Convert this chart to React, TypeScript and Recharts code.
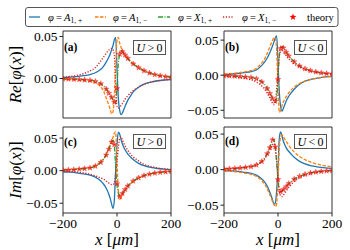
import React from 'react';
import { ComposedChart, Line, Scatter, XAxis, YAxis, ReferenceArea } from 'recharts';

// x positions (um) shared by all simulated curves
const X_GRID = [-200, -175, -150, -125, -100, -80, -60, -50, -40, -30, -25, -20, -15, -10, -5, 0, 5, 10, 15, 20, 25, 30, 40, 50, 60, 80, 100, 125, 150, 175, 200];
// x positions of the theory stars
const STAR_X = [-200, -180, -160, -140, -120, -100, -80, -60, -40, -30, -20, -10, 0, 10, 20, 30, 40, 60, 80, 100, 120, 140, 160, 180, 200];

// (a) Re, U > 0
const A_BLUE = [0.0012, 0.0016, 0.0023, 0.0033, 0.0047, 0.0068, 0.0110, 0.0145, 0.0195, 0.0255, 0.0295, 0.034, 0.039, 0.046, 0.049, 0.012, -0.024, -0.038, -0.043, -0.041, -0.037, -0.033, -0.026, -0.021, -0.016, -0.0105, -0.0068, -0.0042, -0.0027, -0.0018, -0.0012];
const A_ORANGE = [-0.0009, -0.0012, -0.0016, -0.0025, -0.0034, -0.0050, -0.0100, -0.0150, -0.0230, -0.0320, -0.037, -0.042, -0.040, -0.020, 0.012, 0.045, 0.049, 0.042, 0.037, 0.033, 0.030, 0.027, 0.023, 0.020, 0.0175, 0.0135, 0.0098, 0.0064, 0.0040, 0.0025, 0.0015];
const A_GREEN = [-0.0005, -0.0007, -0.0010, -0.0015, -0.0022, -0.0034, -0.0062, -0.0088, -0.0125, -0.0175, -0.0200, -0.0225, -0.0255, -0.029, -0.030, -0.008, 0.018, 0.029, 0.033, 0.032, 0.030, 0.028, 0.024, 0.0205, 0.0175, 0.0128, 0.0092, 0.0060, 0.0038, 0.0024, 0.0015];
const A_RED = [0.0016, 0.0024, 0.0036, 0.0056, 0.0090, 0.0130, 0.0210, 0.0255, 0.0300, 0.0340, 0.0352, 0.0358, 0.0345, 0.028, -0.010, -0.033, -0.035, -0.034, -0.032, -0.030, -0.027, -0.0245, -0.0205, -0.0172, -0.0145, -0.0102, -0.0070, -0.0045, -0.0028, -0.0018, -0.0012];
const A_STARS = [-0.0005, -0.0006, -0.0009, -0.0012, -0.0016, -0.0022, -0.0034, -0.0062, -0.0125, -0.0175, -0.0225, -0.028, -0.012, 0.029, 0.032, 0.028, 0.024, 0.0175, 0.0128, 0.0092, 0.0066, 0.0046, 0.0033, 0.0022, 0.0015];

// (b) Re, U < 0
const B_BLUE = [0.0012, 0.0016, 0.0024, 0.0036, 0.0050, 0.0075, 0.0140, 0.0185, 0.0245, 0.0325, 0.0370, 0.0420, 0.0475, 0.0535, 0.0560, 0.018, -0.025, -0.045, -0.051, -0.047, -0.042, -0.037, -0.030, -0.0245, -0.0200, -0.0128, -0.0085, -0.0056, -0.0037, -0.0025, -0.0017];
const B_ORANGE = [0.0017, 0.0023, 0.0033, 0.0047, 0.0066, 0.0098, 0.0175, 0.0230, 0.0310, 0.0405, 0.0455, 0.0500, 0.0535, 0.0530, 0.035, -0.015, -0.053, -0.050, -0.043, -0.038, -0.034, -0.031, -0.025, -0.0205, -0.0170, -0.0118, -0.0085, -0.0058, -0.0040, -0.0028, -0.0020];
const B_GREEN = [-0.0007, -0.0010, -0.0015, -0.0023, -0.0033, -0.0050, -0.0095, -0.0130, -0.0190, -0.0260, -0.0295, -0.0330, -0.0360, -0.0380, -0.033, -0.005, 0.028, 0.039, 0.041, 0.039, 0.036, 0.033, 0.0275, 0.0230, 0.0192, 0.0133, 0.0093, 0.0060, 0.0039, 0.0026, 0.0017];
const B_RED = [-0.0015, -0.0021, -0.0030, -0.0044, -0.0064, -0.0098, -0.0155, -0.0195, -0.0255, -0.0325, -0.0365, -0.0400, -0.0420, -0.038, -0.020, 0.008, 0.028, 0.034, 0.035, 0.033, 0.030, 0.028, 0.0235, 0.0195, 0.0162, 0.0115, 0.0080, 0.0053, 0.0035, 0.0023, 0.0016];
const B_STARS = [-0.0007, -0.0009, -0.0013, -0.0018, -0.0025, -0.0033, -0.0050, -0.0095, -0.019, -0.026, -0.033, -0.037, -0.006, 0.038, 0.039, 0.033, 0.0275, 0.0192, 0.0133, 0.0093, 0.0066, 0.0047, 0.0034, 0.0024, 0.0017];

// (c) Im, U > 0
const C_BLUE = [-0.0017, -0.0023, -0.0033, -0.0048, -0.0067, -0.0100, -0.0160, -0.0205, -0.0270, -0.0365, -0.0430, -0.0510, -0.058, -0.046, 0.000, 0.040, 0.059, 0.056, 0.048, 0.041, 0.036, 0.032, 0.0255, 0.0210, 0.0170, 0.0112, 0.0076, 0.0049, 0.0033, 0.0023, 0.0016];
const C_ORANGE = [0.0012, 0.0016, 0.0023, 0.0034, 0.0048, 0.0078, 0.0137, 0.0180, 0.0250, 0.0345, 0.0395, 0.0450, 0.0510, 0.0575, 0.0595, 0.012, -0.030, -0.0435, -0.042, -0.037, -0.033, -0.030, -0.0245, -0.0200, -0.0165, -0.0113, -0.0078, -0.0050, -0.0031, -0.0020, -0.0013];
const C_GREEN = [0.0009, 0.0013, 0.0019, 0.0029, 0.0043, 0.0070, 0.0128, 0.0175, 0.0240, 0.0330, 0.0385, 0.0440, 0.0470, 0.040, 0.005, -0.022, -0.035, -0.040, -0.039, -0.035, -0.032, -0.029, -0.0235, -0.0195, -0.0160, -0.0110, -0.0075, -0.0048, -0.0030, -0.0020, -0.0013];
const C_RED = [-0.0008, -0.0012, -0.0021, -0.0035, -0.0055, -0.0080, -0.0112, -0.0130, -0.0160, -0.0190, -0.0205, -0.0215, -0.0215, -0.018, -0.005, 0.015, 0.035, 0.050, 0.052, 0.047, 0.042, 0.038, 0.031, 0.0255, 0.0210, 0.0150, 0.0095, 0.0065, 0.0041, 0.0027, 0.0018];
const C_STARS = [0.0009, 0.0012, 0.0016, 0.0023, 0.0032, 0.0043, 0.0070, 0.0128, 0.024, 0.033, 0.044, 0.040, -0.020, -0.040, -0.035, -0.029, -0.0235, -0.016, -0.011, -0.0075, -0.0053, -0.0037, -0.0026, -0.0018, -0.0013];

// (d) Im, U < 0
const D_BLUE = [-0.0013, -0.0018, -0.0025, -0.0037, -0.0052, -0.0078, -0.0132, -0.0172, -0.0230, -0.0320, -0.0370, -0.0430, -0.0485, -0.047, -0.030, 0.000, 0.045, 0.053, 0.047, 0.040, 0.035, 0.031, 0.0255, 0.0212, 0.0175, 0.0117, 0.0080, 0.0053, 0.0036, 0.0025, 0.0017];
const D_ORANGE = [-0.0017, -0.0023, -0.0032, -0.0047, -0.0065, -0.0095, -0.0155, -0.0200, -0.0270, -0.0355, -0.0400, -0.0450, -0.0490, -0.0520, -0.0480, -0.015, 0.030, 0.046, 0.049, 0.046, 0.043, 0.040, 0.034, 0.029, 0.0250, 0.0185, 0.0140, 0.0100, 0.0073, 0.0053, 0.0040];
const D_GREEN = [0.0009, 0.0013, 0.0019, 0.0029, 0.0042, 0.0066, 0.0115, 0.0158, 0.0225, 0.0310, 0.0365, 0.0420, 0.0425, 0.032, 0.010, -0.015, -0.028, -0.031, -0.030, -0.028, -0.026, -0.024, -0.0195, -0.0162, -0.0133, -0.0093, -0.0065, -0.0042, -0.0028, -0.0019, -0.0013];
const D_RED = [0.0010, 0.0015, 0.0022, 0.0032, 0.0047, 0.0070, 0.0115, 0.0150, 0.0205, 0.0280, 0.0320, 0.0355, 0.0365, 0.030, 0.012, -0.012, -0.030, -0.037, -0.038, -0.036, -0.033, -0.030, -0.0250, -0.0205, -0.0168, -0.0115, -0.0080, -0.0052, -0.0035, -0.0023, -0.0016];
const D_STARS = [0.0009, 0.0012, 0.0017, 0.0024, 0.0032, 0.0042, 0.0066, 0.0115, 0.0225, 0.031, 0.042, 0.032, -0.014, -0.031, -0.028, -0.024, -0.0195, -0.0133, -0.0093, -0.0065, -0.0047, -0.0034, -0.0025, -0.0018, -0.0013];

const X_TICKS = [-200, 0, 200];

const BLUE = '#1f77b4';
const ORANGE = '#ff7f0e';
const GREEN = '#2ca02c';
const RED = '#d62728';
const FONT = '"Liberation Serif", "DejaVu Serif", serif';

const toRows = (b: number[], o: number[], g: number[], r: number[]) =>
  X_GRID.map((x, i) => ({ x, blue: b[i], orange: o[i], green: g[i], red: r[i] }));
const toStars = (ys: number[]) => STAR_X.map((x, i) => ({ x, y: ys[i] }));

const fmtY = (v: number) => (v < 0 ? '\u2212' + Math.abs(v).toFixed(2) : v.toFixed(2));
const fmtX = (v: number) => (v < 0 ? '\u2212' + Math.abs(v) : String(v));

const starPoints = (cx: number, cy: number, ro: number, ri: number) => {
  const pts: string[] = [];
  for (let k = 0; k < 10; k++) {
    const r = k % 2 === 0 ? ro : ri;
    const a = -Math.PI / 2 + (k * Math.PI) / 5;
    pts.push(`${cx + r * Math.cos(a)},${cy + r * Math.sin(a)}`);
  }
  return pts.join(' ');
};

const StarMark = (props: any) => {
  const { cx, cy } = props;
  if (cx == null || cy == null) return <g />;
  return <polygon points={starPoints(cx, cy, 2.9, 1.2)} fill="#ff0000" fillOpacity={0.6} stroke="#ff0000" strokeOpacity={0.8} strokeWidth={0.4} />;
};

const YLabel = (kind: string) => (props: any) => {
  const vb = props.viewBox;
  const cx = vb.x + 15;
  const cy = vb.y + vb.height / 2;
  return (
    <text x={cx} y={cy} transform={`rotate(-90 ${cx} ${cy})`} textAnchor="middle" dominantBaseline="central"
      fontFamily={FONT} fontSize={17} fill="#000">
      <tspan fontStyle="italic">{kind}</tspan>[<tspan fontStyle="italic">φ</tspan>(<tspan fontStyle="italic">x</tspan>)]
    </text>
  );
};

const XLabel = (props: any) => {
  const vb = props.viewBox;
  return (
    <text x={vb.x + vb.width / 2} y={vb.y + 32} textAnchor="middle" fontFamily={FONT} fontSize={17} fill="#000">
      <tspan fontStyle="italic">x</tspan>{' ['}<tspan fontStyle="italic">μm</tspan>]
    </text>
  );
};

interface PanelProps {
  rows: any[];
  stars: any[];
  plotLeft: number;
  plotTop: number;
  plotH: number;
  domain: [number, number];
  yTicks: number[];
  showX: boolean;
  yLabel?: string;
}

const Panel: React.FC<PanelProps> = ({ rows, stars, plotLeft, plotTop, plotH, domain, yTicks, showX, yLabel }) => {
  const W = 350;
  const H = 250;
  const plotW = 108;
  const yAxisW = 63;
  const xAxisH = showX ? 37 : 10;
  const margin = {
    left: plotLeft - yAxisW,
    top: plotTop,
    right: W - plotLeft - plotW,
    bottom: H - plotTop - plotH - xAxisH,
  };
  const tickStyle = { fill: '#000', fontSize: 13.5, fontFamily: FONT };
  return (
    <div style={{ position: 'absolute', left: 0, top: 0 }}>
      <ComposedChart width={W} height={H} data={rows} margin={margin}>
        <XAxis type="number" dataKey="x" domain={[-200, 200]} ticks={X_TICKS} allowDataOverflow
          axisLine={false} tickSize={3.5} tickLine={{ stroke: '#222' }} height={xAxisH}
          tick={showX ? tickStyle : false} tickFormatter={fmtX}
          label={showX ? { content: XLabel } : undefined} />
        <YAxis type="number" domain={domain} ticks={yTicks} allowDataOverflow width={yAxisW}
          axisLine={false} tickSize={3.5} tickLine={{ stroke: '#222' }} tick={tickStyle} tickFormatter={fmtY}
          label={yLabel ? { content: YLabel(yLabel) } : undefined} />
        <Line type="monotone" dataKey="blue" stroke={BLUE} strokeWidth={1.3} dot={false} isAnimationActive={false} />
        <Line type="monotone" dataKey="orange" stroke={ORANGE} strokeWidth={1.3} strokeDasharray="3.5 1.5" dot={false} isAnimationActive={false} />
        <Line type="monotone" dataKey="green" stroke={GREEN} strokeWidth={1.3} strokeDasharray="5 1.5 1 1.5" dot={false} isAnimationActive={false} />
        <Line type="monotone" dataKey="red" stroke={RED} strokeWidth={1.4} strokeDasharray="1.2 1.6" dot={false} isAnimationActive={false} />
        <Scatter data={stars} dataKey="y" shape={StarMark} isAnimationActive={false} />
        <ReferenceArea x1={-200} x2={200} y1={domain[0]} y2={domain[1]} fill="none" stroke="#333" strokeWidth={1} ifOverflow="visible" />
      </ComposedChart>
    </div>
  );
};

const PanelTag: React.FC<{ x: number; y: number; tag: string; bx: number; by: number; sign: string }> = ({ x, y, tag, bx, by, sign }) => (
  <g>
    <text x={x} y={y} fontFamily={FONT} fontWeight="bold" fontSize={11.5} fill="#000">{tag}</text>
    <rect x={bx} y={by} width={32} height={14} fill="#fff" stroke="#555" strokeWidth={1} />
    <text x={bx + 16} y={by + 11} textAnchor="middle" fontFamily={FONT} fontSize={12} fill="#000">
      <tspan fontStyle="italic">U</tspan>{'\u2009' + sign + '\u20090'}
    </text>
  </g>
);

const LegendText: React.FC<{ x: number; sym: string; sub: string }> = ({ x, sym, sub }) => (
  <text x={x} y={20.5} fontFamily={FONT} fontSize={10.5} fill="#000">
    <tspan fontStyle="italic">φ</tspan>{'\u2009=\u2009'}<tspan fontStyle="italic">{sym}</tspan>
    <tspan fontSize={7.5} dy={2.5}>{sub}</tspan>
  </text>
);

export default function App() {
  return (
    <div style={{ position: 'absolute', left: 0, top: 0, width: 350, height: 250, background: '#fff' }}>
      <Panel rows={toRows(A_BLUE, A_ORANGE, A_GREEN, A_RED)} stars={toStars(A_STARS)} plotLeft={63} plotTop={31} plotH={87}
        domain={[-0.047, 0.0565]} yTicks={[0, 0.05]} showX={false} yLabel="Re" />
      <Panel rows={toRows(B_BLUE, B_ORANGE, B_GREEN, B_RED)} stars={toStars(B_STARS)} plotLeft={224} plotTop={31} plotH={87}
        domain={[-0.061, 0.063]} yTicks={[-0.05, 0, 0.05]} showX={false} />
      <Panel rows={toRows(C_BLUE, C_ORANGE, C_GREEN, C_RED)} stars={toStars(C_STARS)} plotLeft={63} plotTop={127} plotH={86}
        domain={[-0.065, 0.067]} yTicks={[-0.05, 0, 0.05]} showX yLabel="Im" />
      <Panel rows={toRows(D_BLUE, D_ORANGE, D_GREEN, D_RED)} stars={toStars(D_STARS)} plotLeft={224} plotTop={127} plotH={86}
        domain={[-0.061, 0.060]} yTicks={[-0.05, 0, 0.05]} showX />
      <svg width={350} height={250} style={{ position: 'absolute', left: 0, top: 0, pointerEvents: 'none' }}>
        {/* legend */}
        <rect x={25.5} y={7.5} width={312.5} height={19} rx={2.5} fill="#fff" stroke="#555" strokeWidth={1} />
        <line x1={29} x2={40} y1={17} y2={17} stroke={BLUE} strokeWidth={1.3} />
        <LegendText x={48} sym="A" sub="1, +" />
        <line x1={95} x2={106} y1={17} y2={17} stroke={ORANGE} strokeWidth={1.3} strokeDasharray="3.5 1.5" />
        <LegendText x={113} sym="A" sub={'1, \u2212'} />
        <line x1={158} x2={170} y1={17} y2={17} stroke={GREEN} strokeWidth={1.3} strokeDasharray="5 1.5 1 1.5" />
        <LegendText x={178} sym="X" sub="1, +" />
        <line x1={223} x2={234} y1={17} y2={17} stroke={RED} strokeWidth={1.4} strokeDasharray="1.2 1.6" />
        <LegendText x={242} sym="X" sub={'1, \u2212'} />
        <polygon points={starPoints(293, 17, 3.6, 1.5)} fill="#ff0000" />
        <text x={307} y={20.5} fontFamily={FONT} fontSize={10.5} fill="#000">theory</text>
        {/* panel tags */}
        <PanelTag x={64} y={51} tag="(a)" bx={133.5} by={40.5} sign=">" />
        <PanelTag x={225} y={51} tag="(b)" bx={294.5} by={40.5} sign="<" />
        <PanelTag x={64} y={146} tag="(c)" bx={133.5} by={134.5} sign=">" />
        <PanelTag x={225} y={145} tag="(d)" bx={294.5} by={134.5} sign="<" />
      </svg>
    </div>
  );
}
